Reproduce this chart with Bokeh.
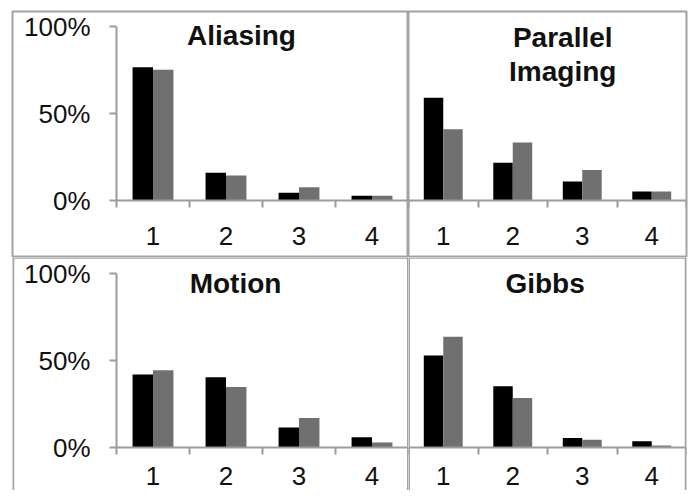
from bokeh.plotting import figure
from bokeh.models import (FixedTicker, PrintfTickFormatter, Label, Range1d,
                          ColumnDataSource, Span)
from bokeh.layouts import gridplot
from bokeh.transform import dodge
from bokeh.embed import file_html
from bokeh.resources import INLINE

# ---------------- data ----------------
categories = [1, 2, 3, 4]
tick_labels = ["1", "2", "3", "4"]
y_ticks = [0, 50, 100]
titles = ["Aliasing", "Parallel\nImaging", "Motion", "Gibbs"]

aliasing_black = [76.6, 15.9, 4.4, 2.7]
aliasing_grey = [75.1, 14.4, 7.6, 2.7]
parallel_black = [59.0, 21.7, 10.9, 5.2]
parallel_grey = [41.0, 33.3, 17.6, 5.2]
motion_black = [42.0, 40.4, 11.5, 5.9]
motion_grey = [44.4, 34.7, 17.0, 2.9]
gibbs_black = [52.9, 35.2, 5.4, 3.6]
gibbs_grey = [63.6, 28.5, 4.4, 1.1]

# ---------------- style / layout ----------------
FONT = "Liberation Sans"
AXIS_COLOR = "#9c9c9c"
BORDER_COLOR = "#a3a3a3"
TEXT_COLOR = "#111111"
BLACK = "#000000"
GREY = "#707070"
PX_Y = 1.74          # px per percent
DIV_X = 408          # vertical divider
DIV_Y = 257          # horizontal divider
TOTAL_W = 688
TOTAL_H = 490
LEFT_AX = 116        # y axis position in the left panels
LEFT_UNIT = (DIV_X - LEFT_AX) / 4.0
RIGHT_UNIT = (TOTAL_W - 2 - DIV_X) / 4.0


def make_panel(title, black, grey, left_col, top_row):
    width = DIV_X if left_col else TOTAL_W - DIV_X
    height = DIV_Y if top_row else TOTAL_H - DIV_Y
    if left_col:
        xr = Range1d(0.5 - (LEFT_AX - 12) / LEFT_UNIT, 4.5)
    else:
        xr = Range1d(0.5, 4.5)
    if top_row:
        yr = Range1d(-(DIV_Y - 200) / PX_Y, 100 + (26 - 11) / PX_Y)
    else:
        yr = Range1d(-(TOTAL_H - 447) / PX_Y, 100 + (273 - DIV_Y) / PX_Y)

    p = figure(width=width, height=height, x_range=xr, y_range=yr,
               output_backend="svg", toolbar_location=None, title=None,
               y_axis_location="left" if left_col else None,
               min_border_left=12 if left_col else 0,
               min_border_right=0 if left_col else 2,
               min_border_top=11 if top_row else 0,
               min_border_bottom=0)
    p.background_fill_color = "white"
    p.border_fill_color = "white"
    p.xgrid.visible = False
    p.ygrid.visible = False
    if top_row:
        p.outline_line_color = BORDER_COLOR
        p.outline_line_width = 2
    else:
        # the reference's frame is open at the bottom edge of the picture
        p.outline_line_color = None
        outer_x = xr.start if left_col else xr.end
        inner_x = xr.end if left_col else xr.start
        for loc, dim, lw in ((outer_x, "height", 3.5), (inner_x, "height", 3),
                             (yr.end, "width", 2.5)):
            p.add_layout(Span(location=loc, dimension=dim,
                              line_color=BORDER_COLOR, line_width=lw))

    src = ColumnDataSource(dict(cat=categories, black=black, grey=grey))
    p.vbar(x=dodge("cat", -0.14), top="black", width=0.28, bottom=0,
           source=src, fill_color=BLACK, line_color=None)
    p.vbar(x=dodge("cat", 0.14), top="grey", width=0.28, bottom=0,
           source=src, fill_color=GREY, line_color=None)

    # x axis
    xa = p.xaxis[0]
    xa.fixed_location = 0
    xa.bounds = (0.5, 4.5)
    xa.ticker = FixedTicker(ticks=categories,
                            minor_ticks=[c - 0.5 for c in categories] + [categories[-1] + 0.5])
    xa.major_label_overrides = {c: t for c, t in zip(categories, tick_labels)}
    xa.axis_line_color = AXIS_COLOR
    xa.axis_line_width = 2
    xa.major_tick_line_color = None
    xa.major_tick_out = 0
    xa.major_tick_in = 0
    xa.minor_tick_line_color = AXIS_COLOR
    xa.minor_tick_line_width = 2
    xa.minor_tick_out = 7
    xa.minor_tick_in = 0
    xa.major_label_text_font = FONT
    xa.major_label_text_font_size = "26px"
    xa.major_label_text_color = TEXT_COLOR
    xa.major_label_standoff = 19 if top_row else 12

    if left_col:
        ya = p.yaxis[0]
        ya.fixed_location = 0.5
        ya.bounds = (0, 100)
        ya.ticker = FixedTicker(ticks=y_ticks, minor_ticks=[])
        ya.formatter = PrintfTickFormatter(format="%d%%")
        ya.axis_line_color = AXIS_COLOR
        ya.axis_line_width = 2
        ya.major_tick_line_color = AXIS_COLOR
        ya.major_tick_line_width = 2
        ya.major_tick_out = 7
        ya.major_tick_in = 0
        ya.minor_tick_line_color = None
        ya.major_label_text_font = FONT
        ya.major_label_text_font_size = "26px"
        ya.major_label_text_color = TEXT_COLOR
        ya.major_label_standoff = 19

    # title lines
    lines = title.split("\n")
    if left_col:
        cx = 0.5 + ((241 if top_row else 235) - LEFT_AX) / LEFT_UNIT
    else:
        cx = 0.5 + ((157 if top_row else 139) * (RIGHT_UNIT / 70.75)) / RIGHT_UNIT
    base_px = 35 if top_row else 283
    zero_px = 200 if top_row else 447
    if len(lines) > 1:
        base_px = 37
    for i, line in enumerate(lines):
        yb = (zero_px - (base_px + 34 * i)) / PX_Y
        p.add_layout(Label(x=cx, y=yb, text=line, text_align="center",
                           text_baseline="alphabetic", text_font=FONT,
                           text_font_style="bold", text_font_size="28px",
                           text_color=TEXT_COLOR))
    return p


p1 = make_panel(titles[0], aliasing_black, aliasing_grey, True, True)
p2 = make_panel(titles[1], parallel_black, parallel_grey, False, True)
p3 = make_panel(titles[2], motion_black, motion_grey, True, False)
p4 = make_panel(titles[3], gibbs_black, gibbs_grey, False, False)

grid = gridplot([[p1, p2], [p3, p4]], toolbar_location=None)

open("out.html", "w").write(file_html(grid, INLINE))
